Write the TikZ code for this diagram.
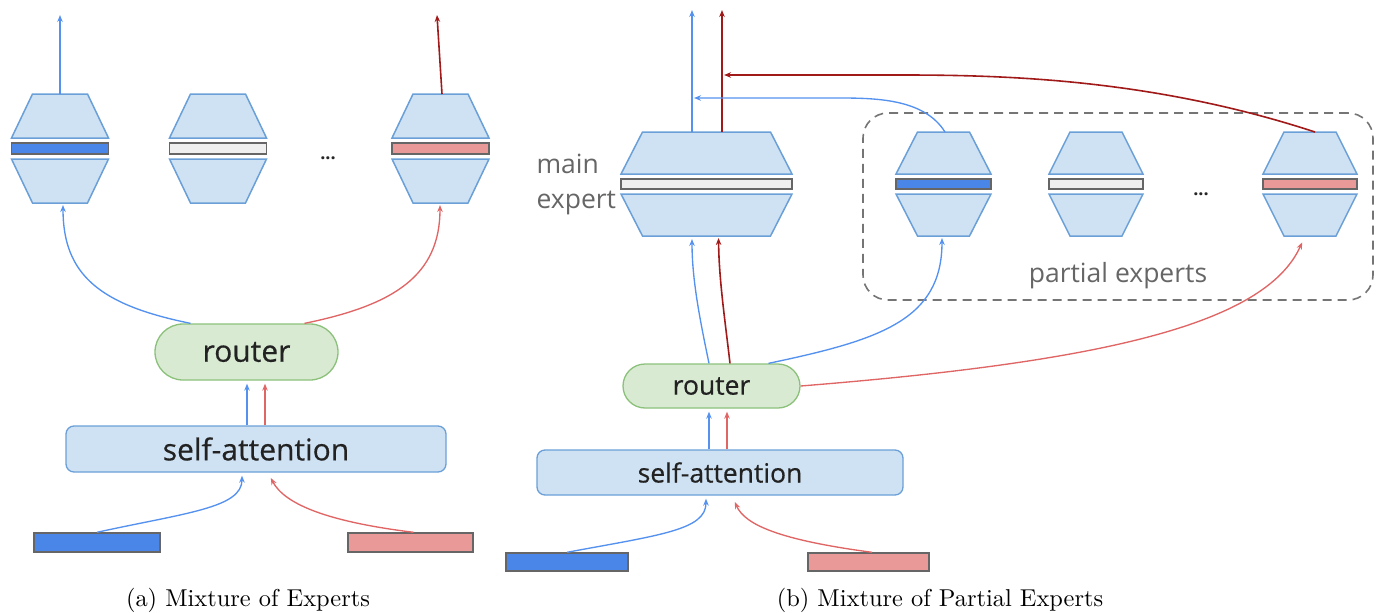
\documentclass[tikz,border=0pt]{standalone}
\usepackage{fontspec}
\newfontfamily\gs{Open Sans}
\newfontfamily\gsm[FakeBold=0.5]{Open Sans}
\usetikzlibrary{arrows.meta}
\definecolor{expfill}{HTML}{CFE2F3}
\definecolor{expdraw}{HTML}{6A9FD8}
\definecolor{rtfill}{HTML}{D9EAD3}
\definecolor{rtdraw}{HTML}{8BC17A}
\definecolor{barblue}{HTML}{4A86E8}
\definecolor{barred}{HTML}{EA9999}
\definecolor{barwhite}{HTML}{EFEFEF}
\definecolor{bargray}{HTML}{666666}
\definecolor{arrblue}{HTML}{5592F0}
\definecolor{arrred}{HTML}{E06666}
\definecolor{arrdark}{HTML}{A11A1A}
\definecolor{dashgray}{HTML}{757575}
\definecolor{labgray}{HTML}{666666}
\definecolor{txt}{HTML}{222222}
\newcommand{\xpert}[9]{%
  \pgfmathsetmacro\xya{#3+#6}%
  \pgfmathsetmacro\xyb{\xya+#7}%
  \pgfmathsetmacro\xyc{\xyb+#8}%
  \pgfmathsetmacro\xyd{\xyc+#7}%
  \pgfmathsetmacro\xye{\xyd+#6}%
  \draw[expstyle] ({#2-#5},#3) -- ({#2+#5},#3) -- ({#2+#4},\xya) -- ({#2-#4},\xya) -- cycle;
  \draw[barstyle, fill=#9] ({#2-#4},\xyb) rectangle ({#2+#4},\xyc);
  \draw[expstyle] ({#2-#4},\xyd) -- ({#2+#4},\xyd) -- ({#2+#5},\xye) -- ({#2-#5},\xye) -- cycle;
  \coordinate (#1t) at (#2,#3);
  \coordinate (#1b) at (#2,\xye);
}
\begin{document}
\begin{tikzpicture}[x=1pt,y=-1pt,
  expstyle/.style={draw=expdraw, fill=expfill, line width=1.5pt, line join=miter},
  barstyle/.style={draw=bargray, line width=1.6pt},
  routerbox/.style={rectangle, draw=rtdraw, fill=rtfill, line width=1.3pt, inner sep=0pt},
  attbox/.style={rectangle, rounded corners=8pt, draw=expdraw, fill=expfill, line width=1.3pt, inner sep=0pt},
  inbar/.style={rectangle, draw=bargray, line width=1.4pt, inner sep=0pt},
  tipx/.style={-{Stealth[length=7pt,width=5.5pt]}},
  ablue/.style={tipx, draw=arrblue, line width=1.35pt},
  ared/.style={tipx, draw=arrred, line width=1.35pt},
  adark/.style={tipx, draw=arrdark, line width=1.6pt},
  lbl/.style={font=\gsm\fontsize{30}{36}\selectfont, text=txt},
  lblb/.style={font=\gsm\fontsize{26.5}{32}\selectfont, text=txt},
  glbl/.style={font=\gs\fontsize{26.5}{35}\selectfont, text=labgray},
  dots/.style={font=\gs\bfseries\fontsize{18}{22}\selectfont, text=black!85},
]
\useasboundingbox (0,0) rectangle (1379,613);

% ---------------- panel (a) ----------------
\xpert{e1}{60}{94}{48.5}{27.5}{44}{5}{11}{barblue}
\xpert{e2}{218}{94}{48.5}{27.5}{44}{5}{11}{barwhite}
\xpert{e3}{440.5}{94}{48.5}{27.5}{44}{5}{11}{barred}
\node[dots] (da) at (328,158) {...};

\node[routerbox, rounded corners=28pt, minimum width=183pt, minimum height=56pt, lbl] (ra) at (246.5,352) {router};
\node[attbox, minimum width=380pt, minimum height=46pt, lbl] (sa) at (256,449) {self-attention};
\node[inbar, fill=barblue, minimum width=126pt, minimum height=19pt] (ina) at (97,542.5) {};
\node[inbar, fill=barred, minimum width=125pt, minimum height=19pt] (inb) at (410.5,542.5) {};

\coordinate (oa1) at (60,15);
\coordinate (oa3) at (437,15);
\draw[ablue] (e1t) -- (oa1);
\draw[adark] ([xshift=1.5pt]e3t) -- (oa3);

\draw[ablue, shorten >=2pt] ([xshift=-56pt]ra.north) .. controls (100,305) and (63,275) .. ([xshift=3pt]e1b);
\draw[ared, shorten >=2pt] ([xshift=58pt]ra.north) .. controls (395,305) and (440,275) .. ([xshift=-0.5pt]e3b);

\draw[ablue, shorten >=3pt] ([xshift=-9pt]sa.north) -- ([xshift=0.5pt]ra.south);
\draw[ared, shorten >=3pt] ([xshift=9pt]sa.north) -- ([xshift=18.5pt]ra.south);

\draw[ablue, shorten >=3pt] (ina.north) .. controls (185,513) and (242,508) .. ([xshift=-14pt]sa.south);
\draw[ared, shorten >=6pt] ([xshift=3pt]inb.north) .. controls (330,522) and (285,505) .. ([xshift=12pt]sa.south);

\node[font=\fontsize{10}{12}\selectfont, scale=2.44] (capa) at (248,600) {(a) Mixture of Experts};

% ---------------- panel (b) ----------------
\node[rectangle, rounded corners=25pt, draw=dashgray, dash pattern=on 9pt off 6pt, line width=1.6pt,
  minimum width=510pt, minimum height=187pt, inner sep=0pt] (pbox) at (1118,206.5) {};

\xpert{m}{706.5}{132}{85.5}{64}{42}{5}{10}{barwhite}
\xpert{p1}{943.5}{132}{47.5}{26}{42}{5}{10}{barblue}
\xpert{p2}{1096}{132}{47}{26}{42}{5}{10}{barwhite}
\xpert{p3}{1310}{132}{47}{26}{42}{5}{10}{barred}
\node[dots] (db) at (1201,194) {...};

\node[glbl, align=left, anchor=west] (mlab) at (533,184) {main\\expert};
\node[glbl] (plab) at (1118,276) {partial experts};

\node[routerbox, rounded corners=22pt, minimum width=177pt, minimum height=44pt, lblb] (rb) at (711.5,386) {router};
\node[attbox, minimum width=366pt, minimum height=45pt, lblb] (sb) at (720,472.5) {self-attention};
\node[inbar, fill=barblue, minimum width=122pt, minimum height=18pt] (inc) at (567,562) {};
\node[inbar, fill=barred, minimum width=121pt, minimum height=18pt] (ind) at (868.5,562) {};

\coordinate (ob1) at (692,10);
\coordinate (ob2) at (722,10);
\coordinate (jb) at (694,98);
\coordinate (jr) at (724,75);
\draw[ablue] ([xshift=-14.5pt]mt) -- (ob1);
\draw[adark] ([xshift=15.5pt]mt) -- (ob2);

\draw[ablue] ([xshift=1.5pt]p1t) .. controls (925,100) and (880,98) .. (840,98) -- (jb);
\draw[adark] ([xshift=5pt]p3t) .. controls (1150,78) and (1000,75) .. (900,75) -- (jr);

\draw[ablue, shorten >=3pt] ([xshift=-2.5pt]rb.north) .. controls (700,320) and (692,280) .. ([xshift=-14.5pt]mb);
\draw[adark, shorten >=2pt] ([xshift=18.5pt]rb.north) .. controls (725,320) and (719,280) .. ([xshift=12pt]mb);
\draw[ablue, shorten >=2pt] ([xshift=57pt]rb.north) .. controls (880,340) and (942,320) .. ([xshift=-1.5pt]p1b);
\draw[ared, shorten >=7pt] (rb.east) .. controls (1100,362) and (1265,325) .. ([xshift=-5pt]p3b);

\draw[ablue, shorten >=3pt] ([xshift=-11pt]sb.north) -- ([xshift=-2.5pt]rb.south);
\draw[ared, shorten >=3pt] ([xshift=7pt]sb.north) -- ([xshift=15.5pt]rb.south);

\draw[ablue, shorten >=3pt] (inc.north) .. controls (660,535) and (706,530) .. ([xshift=-14pt]sb.south);
\draw[ared, shorten >=7pt] ([xshift=3.5pt]ind.north) .. controls (780,540) and (745,525) .. ([xshift=12pt]sb.south);

\node[font=\fontsize{10}{12}\selectfont, scale=2.44] (capb) at (940,600) {(b) Mixture of Partial Experts};
\end{tikzpicture}
\end{document}
